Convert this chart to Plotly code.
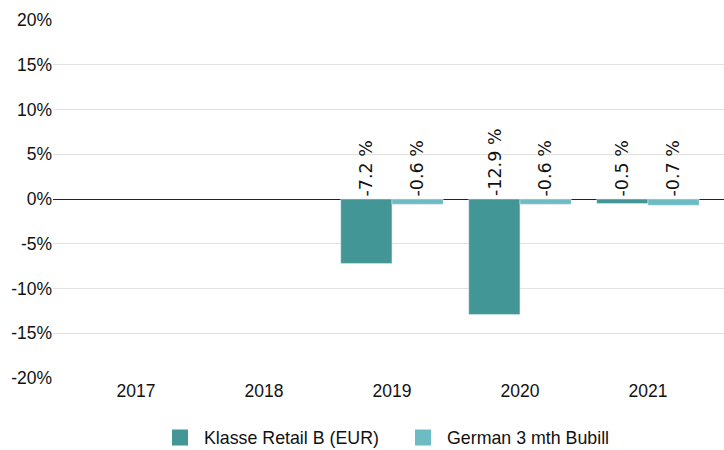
import plotly.graph_objects as go

years = ["2017", "2018", "2019", "2020", "2021"]
fund = [None, None, -7.2, -12.9, -0.5]
bench = [None, None, -0.6, -0.6, -0.7]
fund_name = "Klasse Retail B (EUR)"
bench_name = "German 3 mth Bubill"
fund_color = "#439696"
bench_color = "#6dbcc4"
y_ticks = [-20, -15, -10, -5, 0, 5, 10, 15, 20]

fig = go.Figure()
fig.add_trace(go.Bar(x=years, y=fund, name=fund_name, marker_color=fund_color,
                     showlegend=False))
fig.add_trace(go.Bar(x=years, y=bench, name=bench_name, marker_color=bench_color,
                     showlegend=False))
# legend entries with larger square swatches
for name, color in ((fund_name, fund_color), (bench_name, bench_color)):
    fig.add_trace(go.Scatter(x=[None], y=[None], mode="markers", name=name,
                             marker=dict(symbol="square", size=16, color=color),
                             hoverinfo="skip"))

for vals, shift in ((fund, -25.5), (bench, 25.5)):
    for i, v in enumerate(vals):
        if v is None:
            continue
        fig.add_annotation(x=i, y=0, xref="x", yref="y", text=f"{v:.1f} %",
                           textangle=-90, showarrow=False, xshift=shift,
                           yanchor="bottom", yshift=1,
                           font=dict(family="DejaVu Sans, sans-serif", size=17.5,
                                     color="#111111"))

fig.update_layout(
    width=724, height=450,
    margin=dict(l=53, r=0, t=20, b=72),
    paper_bgcolor="white", plot_bgcolor="white",
    font=dict(family="Liberation Sans, Arial, sans-serif", size=17.5, color="#111111"),
    barmode="group", bargap=0.2, bargroupgap=0,
    showlegend=True,
    legend=dict(orientation="h", x=156 / 724, xanchor="left", xref="container",
                y=0.027, yanchor="middle", yref="container",
                font=dict(size=17.8), traceorder="normal", itemwidth=38,
                entrywidth=190, entrywidthmode="pixels"),
    xaxis=dict(type="category", range=[-0.648, 4.594], showgrid=False, ticks="",
               showline=False, zeroline=False, automargin=False),
    yaxis=dict(range=[-20, 20], tickvals=y_ticks,
               ticktext=[f"{t}%" for t in y_ticks], showgrid=True,
               gridcolor="#e2e2e2", gridwidth=1, zeroline=True, zerolinecolor="#222222",
               zerolinewidth=1, ticks="", showline=False, automargin=False),
)

fig.write_html("out.html", config={"displayModeBar": False},
               post_script="document.body.style.margin='0';document.body.style.padding='0';")
